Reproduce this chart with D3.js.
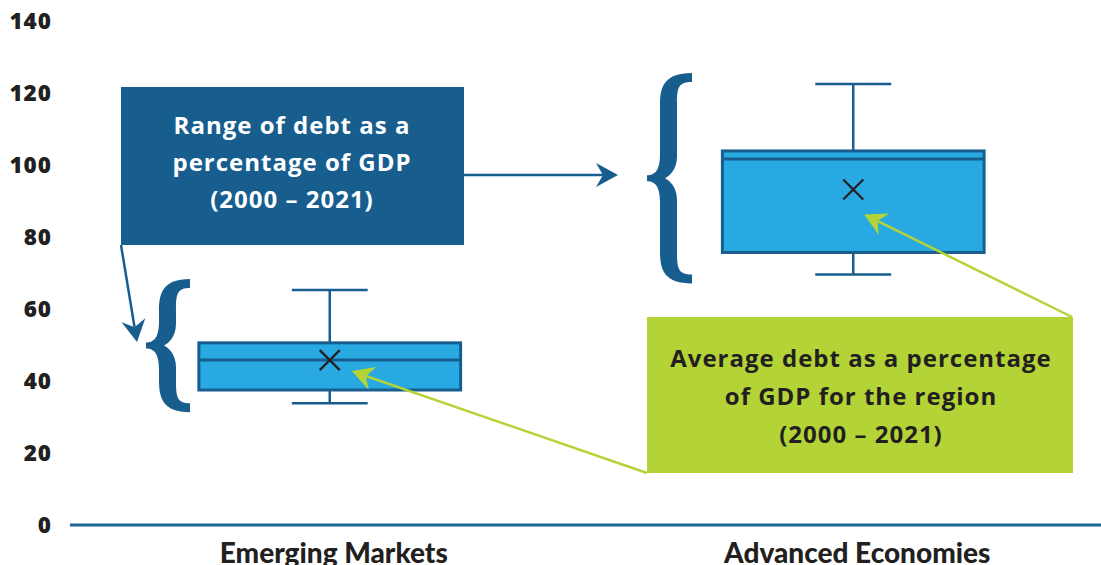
<!DOCTYPE html>
<html>
<head>
<meta charset="utf-8">
<script src="https://cdn.jsdelivr.net/npm/d3@7"></script>
<style>
  body { margin: 0; background: #fff; }
  svg { display: block; font-family: "Open Sans", Lato, sans-serif; }
</style>
</head>
<body>
<div id="container"></div>
<script>
var width = 1101,
    height = 565;

// data
var categories = ["Emerging Markets", "Advanced Economies"];
var whisker_low = [33.8, 69.6];
var q1 = [37.5, 75.7];
var median = [45.8, 101.7];
var q3 = [50.6, 103.9];
var whisker_high = [65.3, 122.5];
var mean = [45.8, 93.2];
var y_ticks = [0, 20, 40, 60, 80, 100, 120, 140];

var dark_blue = "#175e8f",
    box_blue = "#29a9e1",
    green = "#b4d336",
    ink = "#231f20";

var svg = d3.select("#container")
            .append("svg")
            .attr("width", width)
            .attr("height", height);

var y = d3.scaleLinear().domain([0, 140]).range([525, 21]);
var x = d3.scalePoint().domain(categories).range([68, 1115]).padding(0.5);
var box_w = x.step() * 0.5,
    cap_w = x.step() * 0.145;

var rows = categories.map(function(c, i) {
  return {cat: c, lo: whisker_low[i], q1: q1[i], med: median[i], q3: q3[i], hi: whisker_high[i], mean: mean[i]};
});

// y axis labels only
var yAxis = d3.axisLeft(y).tickValues(y_ticks).tickSize(0).tickPadding(0);
var yg = svg.append("g")
   .attr("transform", "translate(52,0)")
   .call(yAxis);
yg.select(".domain").remove();
yg.selectAll("text")
  .style("font-family", "'Open Sans', sans-serif")
  .style("font-weight", 800)
  .style("font-size", "22.5px")
  .style("letter-spacing", "1px")
  .style("fill", ink);

// baseline
svg.append("line")
   .attr("x1", 70).attr("x2", width)
   .attr("y1", y(0)).attr("y2", y(0))
   .attr("stroke", "#1a6496")
   .attr("stroke-width", 3);

// x labels
svg.selectAll(".xlab")
   .data(categories)
   .enter().append("text")
   .attr("class", "xlab")
   .attr("x", function(d) { return x(d) + 4; })
   .attr("y", 563)
   .attr("text-anchor", "middle")
   .style("font-family", "Lato, sans-serif")
   .style("font-weight", 900)
   .style("font-size", "28px")
   .style("fill", ink)
   .text(function(d) { return d; });

// boxes
var bx = svg.selectAll(".box")
   .data(rows)
   .enter().append("g")
   .attr("class", "box");

bx.append("line")
  .attr("x1", function(d) { return x(d.cat); })
  .attr("x2", function(d) { return x(d.cat); })
  .attr("y1", function(d) { return y(d.hi); })
  .attr("y2", function(d) { return y(d.lo); })
  .attr("stroke", dark_blue).attr("stroke-width", 2.5);

bx.selectAll(".cap")
  .data(function(d) { return [{cat: d.cat, v: d.hi}, {cat: d.cat, v: d.lo}]; })
  .enter().append("line")
  .attr("x1", function(d) { return x(d.cat) - cap_w / 2; })
  .attr("x2", function(d) { return x(d.cat) + cap_w / 2; })
  .attr("y1", function(d) { return y(d.v); })
  .attr("y2", function(d) { return y(d.v); })
  .attr("stroke", dark_blue).attr("stroke-width", 2.5);

bx.append("rect")
  .attr("x", function(d) { return x(d.cat) - box_w / 2; })
  .attr("y", function(d) { return y(d.q3); })
  .attr("width", box_w)
  .attr("height", function(d) { return y(d.q1) - y(d.q3); })
  .attr("fill", box_blue)
  .attr("stroke", dark_blue).attr("stroke-width", 3);

bx.append("line")
  .attr("x1", function(d) { return x(d.cat) - box_w / 2; })
  .attr("x2", function(d) { return x(d.cat) + box_w / 2; })
  .attr("y1", function(d) { return y(d.med); })
  .attr("y2", function(d) { return y(d.med); })
  .attr("stroke", dark_blue).attr("stroke-width", 3);

bx.append("path")
  .attr("d", function(d) {
    var cx = x(d.cat), cy = y(d.mean), r = 10;
    return "M" + (cx - r) + "," + (cy - r) + "L" + (cx + r) + "," + (cy + r) +
           "M" + (cx + r) + "," + (cy - r) + "L" + (cx - r) + "," + (cy + r);
  })
  .attr("stroke", ink).attr("stroke-width", 2.2).attr("fill", "none");

// braces next to each box
function brace(xl, xr, top, bot) {
  var mid = (top + bot) / 2,
      sL = xl + 13, sR = sL + 17;
  return "M" + xr + "," + top +
    "C" + (sL + 4) + "," + top + " " + sL + "," + (top + 14) + " " + sL + "," + (top + 32) +
    "L" + sL + "," + (mid - 24) +
    "C" + sL + "," + (mid - 8) + " " + (xl + 8) + "," + (mid - 3) + " " + xl + "," + (mid - 3) +
    "L" + xl + "," + (mid + 3) +
    "C" + (xl + 8) + "," + (mid + 3) + " " + sL + "," + (mid + 8) + " " + sL + "," + (mid + 24) +
    "L" + sL + "," + (bot - 32) +
    "C" + sL + "," + (bot - 14) + " " + (sL + 4) + "," + bot + " " + xr + "," + bot +
    "L" + xr + "," + (bot - 9) +
    "C" + (sR + 2) + "," + (bot - 9) + " " + sR + "," + (bot - 14) + " " + sR + "," + (bot - 30) +
    "L" + sR + "," + (mid + 22) +
    "C" + sR + "," + (mid + 8) + " " + (xl + 22) + "," + (mid + 2) + " " + (xl + 18) + "," + mid +
    "C" + (xl + 22) + "," + (mid - 2) + " " + sR + "," + (mid - 8) + " " + sR + "," + (mid - 22) +
    "L" + sR + "," + (top + 30) +
    "C" + sR + "," + (top + 14) + " " + (sR + 2) + "," + (top + 9) + " " + xr + "," + (top + 9) + "Z";
}

var brace_x = [[146, 190], [647, 692]];
svg.selectAll(".brace")
   .data(rows)
   .enter().append("path")
   .attr("class", "brace")
   .attr("d", function(d, i) { return brace(brace_x[i][0], brace_x[i][1], y(d.hi) - 11, y(d.lo) + 9); })
   .attr("fill", dark_blue);

// arrow heads
function arrow(g, x1, y1, x2, y2, color) {
  var a = Math.atan2(y2 - y1, x2 - x1), len = 22, half = 12, notch = 15;
  var bx0 = x2 - len * Math.cos(a), by0 = y2 - len * Math.sin(a);
  var nx = x2 - notch * Math.cos(a), ny = y2 - notch * Math.sin(a);
  g.append("line")
   .attr("x1", x1).attr("y1", y1).attr("x2", nx).attr("y2", ny)
   .attr("stroke", color).attr("stroke-width", 2.5);
  g.append("path")
   .attr("d", "M" + x2 + "," + y2 +
              "L" + (bx0 - half * Math.sin(a)) + "," + (by0 + half * Math.cos(a)) +
              "L" + nx + "," + ny +
              "L" + (bx0 + half * Math.sin(a)) + "," + (by0 - half * Math.cos(a)) + "Z")
   .attr("fill", color);
}

var notes = svg.append("g").attr("id", "notes");

// blue callout
notes.append("rect")
     .attr("x", 121).attr("y", 87)
     .attr("width", 343).attr("height", 158)
     .attr("fill", dark_blue);
notes.selectAll(".bluetxt")
     .data(["Range of debt as a", "percentage of GDP", "(2000 \u2013 2021)"])
     .enter().append("text")
     .attr("x", 292)
     .attr("y", function(d, i) { return 134 + i * 37; })
     .attr("text-anchor", "middle")
     .style("font-weight", 700)
     .style("font-size", "24px")
     .style("letter-spacing", "1px")
     .style("fill", "#fff")
     .text(function(d) { return d; });

arrow(notes, 464, 175, 618, 175, dark_blue);
arrow(notes, 121, 245, 137, 342, dark_blue);

// green callout
notes.append("rect")
     .attr("x", 647).attr("y", 317)
     .attr("width", 426).attr("height", 156)
     .attr("fill", green);
notes.selectAll(".greentxt")
     .data(["Average debt as a percentage", "of GDP for the region", "(2000 \u2013 2021)"])
     .enter().append("text")
     .attr("x", 861)
     .attr("y", function(d, i) { return 367 + i * 38; })
     .attr("text-anchor", "middle")
     .style("font-weight", 700)
     .style("font-size", "24px")
     .style("letter-spacing", "1px")
     .style("fill", ink)
     .text(function(d) { return d; });

arrow(notes, 1072, 317, x(categories[1]) + 11, y(mean[1]) + 25, green);
arrow(notes, 647, 473, x(categories[0]) + 22, y(mean[0]) + 11, green);
</script>
</body>
</html>
